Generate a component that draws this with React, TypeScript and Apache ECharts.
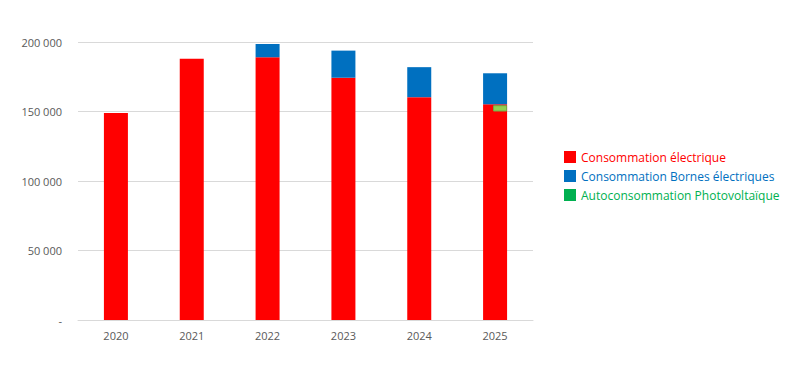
import React, { useEffect, useRef } from "react";
import * as echarts from "echarts";

const years = ["2020", "2021", "2022", "2023", "2024", "2025"];
const consoElec = [149000, 188000, 189000, 174300, 160300, 155200];
const consoBornes = [0, 0, 9500, 19500, 21600, 22300];
const pvBase = ["-", "-", "-", "-", "-", 150000];
const autoconsoPV = ["-", "-", "-", "-", "-", 4500];

const RED = "#FF0000";
const BLUE = "#0070C0";
const GREEN = "#00B050";

export default function App() {
  const ref = useRef<HTMLDivElement>(null);
  useEffect(() => {
    const chart = echarts.init(ref.current!, null, { renderer: "svg" });
    const font = "'Open Sans', 'Noto Sans', sans-serif";
    chart.setOption({
      animation: false,
      backgroundColor: "#ffffff",
      textStyle: { fontFamily: font },
      grid: { left: 78, right: 267, top: 42, bottom: 58 },
      legend: {
        orient: "vertical",
        left: 559,
        top: 146,
        itemWidth: 12,
        itemHeight: 12,
        itemGap: 7,
        icon: "rect",
        textStyle: { fontSize: 12, fontFamily: font },
        data: [
          { name: "Consommation électrique", textStyle: { color: RED } },
          { name: "Consommation Bornes électriques", textStyle: { color: BLUE } },
          { name: "Autoconsommation Photovoltaïque", textStyle: { color: GREEN } },
        ],
      },
      xAxis: [
        {
          type: "category",
          data: years,
          axisLine: { lineStyle: { color: "#D9D9D9", width: 1 } },
          axisTick: { show: false },
          axisLabel: { color: "#595959", fontSize: 11, margin: 10 },
        },
        {
          type: "category",
          data: years,
          show: false,
        },
      ],
      yAxis: {
        type: "value",
        min: 0,
        max: 200000,
        interval: 50000,
        axisLine: { show: false },
        axisTick: { show: false },
        splitLine: { lineStyle: { color: "#D9D9D9", width: 1 } },
        axisLabel: {
          color: "#595959",
          fontSize: 11,
          margin: 16,
          formatter: (v: number) =>
            v === 0 ? "-" : String(v).replace(/\B(?=(\d{3})+(?!\d))/g, " "),
        },
      },
      series: [
        {
          name: "Consommation électrique",
          type: "bar",
          stack: "main",
          xAxisIndex: 0,
          barWidth: 24,
          data: consoElec,
          itemStyle: { color: RED },
        },
        {
          name: "Consommation Bornes électriques",
          type: "bar",
          stack: "main",
          xAxisIndex: 0,
          barWidth: 24,
          data: consoBornes,
          itemStyle: { color: BLUE },
        },
        {
          name: "spacer",
          type: "bar",
          xAxisIndex: 1,
          barWidth: 10,
          barGap: 0,
          data: years.map(() => "-"),
          itemStyle: { color: "transparent" },
          silent: true,
        },
        {
          name: "pvBase",
          type: "bar",
          stack: "pv",
          xAxisIndex: 1,
          barWidth: 14,
          barGap: 0,
          data: pvBase,
          itemStyle: { color: "transparent" },
          silent: true,
        },
        {
          name: "Autoconsommation Photovoltaïque",
          type: "bar",
          stack: "pv",
          xAxisIndex: 1,
          barWidth: 14,
          barGap: 0,
          data: autoconsoPV.map((v) =>
            v === "-"
              ? v
              : {
                  value: v,
                  itemStyle: { color: "#92D050", borderColor: "#70AD47", borderWidth: 1 },
                }
          ),
          itemStyle: { color: GREEN },
        },
      ],
    });
    return () => chart.dispose();
  }, []);
  return (
    <div
      ref={ref}
      style={{ position: "fixed", left: 0, top: 0, width: 800, height: 378 }}
    />
  );
}
